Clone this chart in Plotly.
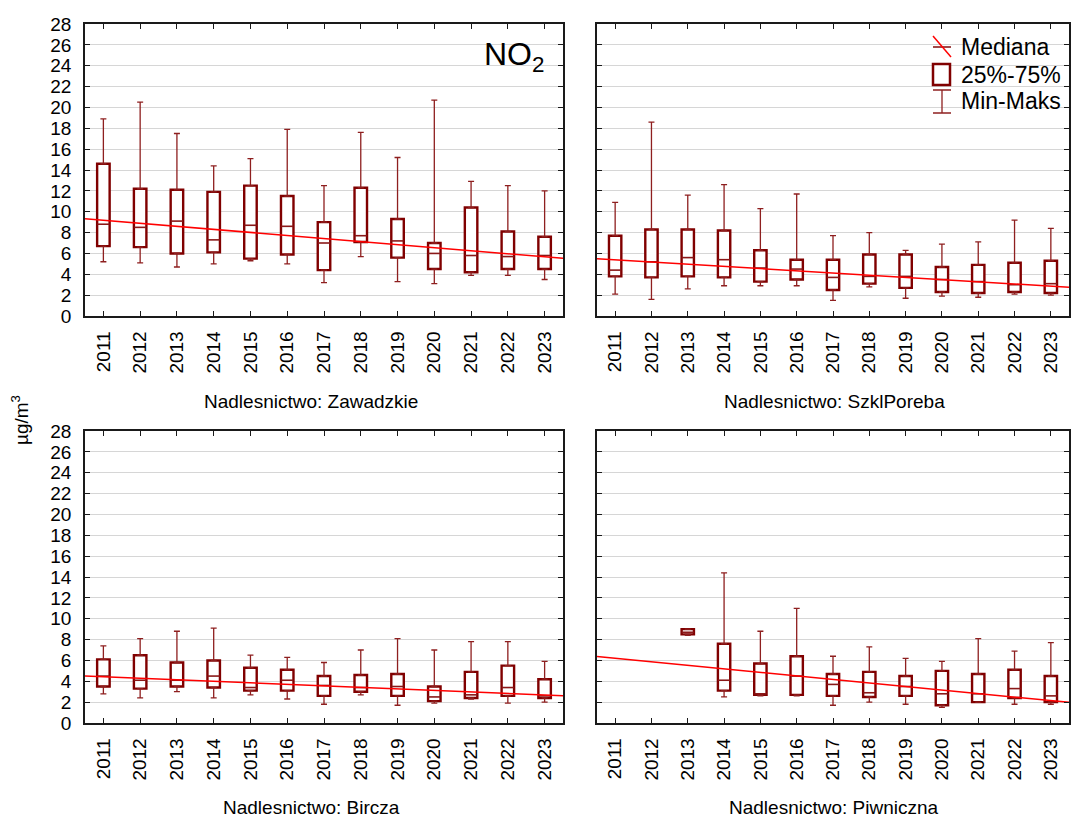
import plotly.graph_objects as go

# ---- data: NO2 concentrations (µg/m3), yearly box statistics ----
years = list(range(2011, 2024))
year_labels = [str(y) for y in years]

# Nadlesnictwo: Zawadzkie
zaw_min = [5.2, 5.1, 4.7, 5.0, 5.3, 5.0, 3.2, 5.7, 3.3, 3.1, 3.9, 3.9, 3.5]
zaw_q1 = [6.7, 6.6, 6.0, 6.1, 5.5, 5.9, 4.4, 7.1, 5.6, 4.5, 4.2, 4.5, 4.5]
zaw_med = [8.8, 8.5, 9.1, 7.3, 8.7, 8.6, 7.0, 7.7, 7.2, 6.0, 5.8, 5.7, 5.8]
zaw_q3 = [14.6, 12.2, 12.1, 11.9, 12.5, 11.5, 9.0, 12.3, 9.3, 7.0, 10.4, 8.1, 7.6]
zaw_max = [18.9, 20.5, 17.5, 14.4, 15.1, 17.9, 12.5, 17.6, 15.2, 20.7, 12.9, 12.5, 12.0]

# Nadlesnictwo: SzklPoreba
szk_min = [2.1, 1.6, 2.6, 2.9, 2.9, 2.9, 1.5, 2.8, 1.7, 1.9, 1.8, 2.1, 2.0]
szk_q1 = [3.8, 3.7, 3.8, 3.7, 3.3, 3.5, 2.5, 3.1, 2.7, 2.3, 2.2, 2.3, 2.2]
szk_med = [4.4, 5.2, 5.6, 5.4, 4.6, 4.5, 3.7, 3.8, 3.8, 3.5, 3.3, 3.0, 3.1]
szk_q3 = [7.7, 8.3, 8.3, 8.2, 6.3, 5.4, 5.4, 5.9, 5.9, 4.7, 4.9, 5.1, 5.3]
szk_max = [10.9, 18.6, 11.6, 12.6, 10.3, 11.7, 7.7, 8.0, 6.3, 6.9, 7.1, 9.2, 8.4]

# Nadlesnictwo: Bircza
bir_min = [2.8, 2.4, 3.0, 2.4, 2.7, 2.3, 1.8, 2.7, 1.7, 1.9, 2.3, 1.9, 2.0]
bir_q1 = [3.5, 3.3, 3.5, 3.4, 3.1, 3.1, 2.6, 3.0, 2.6, 2.1, 2.4, 2.6, 2.4]
bir_med = [4.5, 4.1, 4.1, 4.5, 3.4, 4.1, 3.6, 3.4, 3.5, 2.5, 2.7, 3.4, 2.6]
bir_q3 = [6.1, 6.5, 5.8, 6.0, 5.3, 5.1, 4.5, 4.6, 4.7, 3.5, 4.9, 5.5, 4.2]
bir_max = [7.4, 8.1, 8.8, 9.1, 6.5, 6.3, 5.8, 7.0, 8.1, 7.0, 7.8, 7.8, 5.9]

# Nadlesnictwo: Piwniczna (no measurements in 2011-2012)
piw_min = [None, None, 8.4, 2.5, 2.6, 2.6, 1.7, 2.0, 1.8, 1.5, 2.0, 1.8, 1.8]
piw_q1 = [None, None, 8.5, 3.1, 2.7, 2.7, 2.6, 2.5, 2.6, 1.7, 2.0, 2.4, 2.0]
piw_med = [None, None, 8.7, 4.1, 2.8, 4.5, 3.7, 2.9, 3.5, 2.8, 2.8, 3.3, 2.6]
piw_q3 = [None, None, 9.0, 7.6, 5.7, 6.4, 4.7, 4.9, 4.5, 5.0, 4.7, 5.1, 4.5]
piw_max = [None, None, 9.0, 14.4, 8.8, 11.0, 6.4, 7.3, 6.2, 5.9, 8.1, 6.9, 7.7]

panel_titles = ["Nadlesnictwo: Zawadzkie", "Nadlesnictwo: SzklPoreba",
                "Nadlesnictwo: Bircza", "Nadlesnictwo: Piwniczna"]

# linear trend of the medians, value at the left and right edge of the x range
trend_x = [2010.5, 2023.5]
trend_start = [9.33, 5.50, 4.50, 6.38]
trend_end = [5.53, 2.75, 2.61, 1.98]

y_ticks = list(range(0, 29, 2))

# ---- styling ----
W, H = 1071, 822
FONT = "Arial, 'Liberation Sans', sans-serif"
BOX = "#800000"
WHISK = "#8e1f1f"
MED = "#8a1818"
TREND = "#ff0000"
GRID = "#d6d6d6"
AXIS = "#1a1a1a"


def px(x):
    return x / W


def py(y):
    return 1 - y / H


# plot-area rectangles in pixels: (left, right, top, bottom)
areas = [(85, 563, 24, 316), (597, 1069, 24, 316),
         (85, 563, 431, 723), (597, 1069, 431, 723)]

stats = [
    (zaw_min, zaw_q1, zaw_med, zaw_q3, zaw_max),
    (szk_min, szk_q1, szk_med, szk_q3, szk_max),
    (bir_min, bir_q1, bir_med, bir_q3, bir_max),
    (piw_min, piw_q1, piw_med, piw_q3, piw_max),
]

fig = go.Figure()


def diff(a, b):
    return [None if (u is None or v is None) else round(v - u, 3) for u, v in zip(a, b)]


for i, (mn, q1, med, q3, mx) in enumerate(stats):
    suffix = "" if i == 0 else str(i + 1)
    xa, ya = "x" + suffix, "y" + suffix
    zeros = [0 if v is not None else None for v in q1]

    # interquartile box
    fig.add_trace(go.Bar(
        x=years, y=diff(q1, q3), base=q1, width=0.34,
        marker=dict(color="white", line=dict(color=BOX, width=2.4)),
        xaxis=xa, yaxis=ya, showlegend=False, hoverinfo="skip"))

    # upper whisker (q3 -> max)
    fig.add_trace(go.Scatter(
        x=years, y=q3, mode="markers",
        marker=dict(size=1, color="rgba(0,0,0,0)"),
        error_y=dict(type="data", symmetric=False, array=diff(q3, mx),
                     arrayminus=zeros, color=WHISK, thickness=1.3, width=3),
        xaxis=xa, yaxis=ya, showlegend=False, hoverinfo="skip"))

    # lower whisker (min -> q1)
    fig.add_trace(go.Scatter(
        x=years, y=q1, mode="markers",
        marker=dict(size=1, color="rgba(0,0,0,0)"),
        error_y=dict(type="data", symmetric=False, array=zeros,
                     arrayminus=diff(mn, q1), color=WHISK, thickness=1.3, width=3),
        xaxis=xa, yaxis=ya, showlegend=False, hoverinfo="skip"))

    # median
    fig.add_trace(go.Scatter(
        x=years, y=med, mode="markers",
        marker=dict(symbol="line-ew", size=8.6, line=dict(color=MED, width=1.6)),
        xaxis=xa, yaxis=ya, showlegend=False, hoverinfo="skip"))

    # trend line
    fig.add_trace(go.Scatter(
        x=trend_x, y=[trend_start[i], trend_end[i]], mode="lines",
        line=dict(color=TREND, width=1.5),
        xaxis=xa, yaxis=ya, showlegend=False, hoverinfo="skip"))

layout = dict(
    template="none",
    width=W, height=H, autosize=False,
    margin=dict(l=0, r=0, t=0, b=0, pad=0),
    paper_bgcolor="white", plot_bgcolor="white",
    barmode="overlay", showlegend=False,
    font=dict(family=FONT, size=19, color="black"),
)

for i, (l, r, t, b) in enumerate(areas):
    suffix = "" if i == 0 else str(i + 1)
    layout["xaxis" + suffix] = dict(
        domain=[px(l), px(r)], anchor="y" + suffix, automargin=False,
        range=[2010.5, 2023.5], tickmode="array",
        tickvals=years, ticktext=year_labels, tickangle=-90,
        ticks="inside", ticklen=5, tickwidth=1.3, tickcolor=AXIS,
        showline=True, linecolor=AXIS, linewidth=1.5, mirror="ticks",
        showgrid=False, zeroline=False, ticklabelstandoff=6,
        tickfont=dict(family=FONT, size=19, color="black"),
    )
    layout["yaxis" + suffix] = dict(
        domain=[py(b), py(t)], anchor="x" + suffix, automargin=False,
        range=[0, 28], tickmode="array", tickvals=y_ticks,
        ticktext=[str(v) for v in y_ticks],
        showticklabels=(i % 2 == 0),
        ticks="inside", ticklen=5, tickwidth=1.3, tickcolor=AXIS,
        showline=True, linecolor=AXIS, linewidth=1.5, mirror="ticks",
        showgrid=True, gridcolor=GRID, gridwidth=1, zeroline=False,
        ticklabelstandoff=8,
        tickfont=dict(family=FONT, size=19, color="black"),
    )

fig.update_layout(**layout)

annotations = []
# panel captions under each x axis
cap_pos = [(311, 401), (834, 401), (311, 807), (834, 807)]
for (cx, cy), title in zip(cap_pos, panel_titles):
    annotations.append(dict(
        x=px(cx), y=py(cy), xref="paper", yref="paper", text=title,
        showarrow=False, xanchor="center", yanchor="middle",
        font=dict(family=FONT, size=19, color="black")))

# shared y-axis title
annotations.append(dict(
    x=px(20), y=py(420), xref="paper", yref="paper",
    text="µg/m<sup>3</sup>", textangle=-90, showarrow=False,
    xanchor="center", yanchor="middle",
    font=dict(family=FONT, size=19, color="black")))

# pollutant label
annotations.append(dict(
    x=px(546), y=py(56), xref="paper", yref="paper",
    text="NO<sub>2</sub>", showarrow=False,
    xanchor="right", yanchor="middle",
    font=dict(family=FONT, size=32, color="black")))

# legend entries
for label, ly in [("Mediana", 47), ("25%-75%", 74.5), ("Min-Maks", 101)]:
    annotations.append(dict(
        x=px(959), y=py(ly), xref="paper", yref="paper", text=label,
        showarrow=False, xanchor="left", yanchor="middle",
        font=dict(family=FONT, size=23, color="black")))

shapes = [
    # Mediana symbol
    dict(type="line", xref="paper", yref="paper", x0=px(933), y0=py(47),
         x1=px(951), y1=py(47), line=dict(color=MED, width=1.6)),
    dict(type="line", xref="paper", yref="paper", x0=px(933), y0=py(36),
         x1=px(951), y1=py(57), line=dict(color=TREND, width=1.5)),
    # box symbol
    dict(type="rect", xref="paper", yref="paper", x0=px(933), y0=py(85),
         x1=px(950), y1=py(64), line=dict(color=BOX, width=2.5),
         fillcolor="white"),
    # whisker symbol
    dict(type="line", xref="paper", yref="paper", x0=px(942), y0=py(90),
         x1=px(942), y1=py(113), line=dict(color=WHISK, width=1.3)),
    dict(type="line", xref="paper", yref="paper", x0=px(933), y0=py(90),
         x1=px(951), y1=py(90), line=dict(color=WHISK, width=1.5)),
    dict(type="line", xref="paper", yref="paper", x0=px(933), y0=py(113),
         x1=px(951), y1=py(113), line=dict(color=WHISK, width=1.5)),
]

fig.update_layout(annotations=annotations, shapes=shapes)

fig.write_html("out.html")
